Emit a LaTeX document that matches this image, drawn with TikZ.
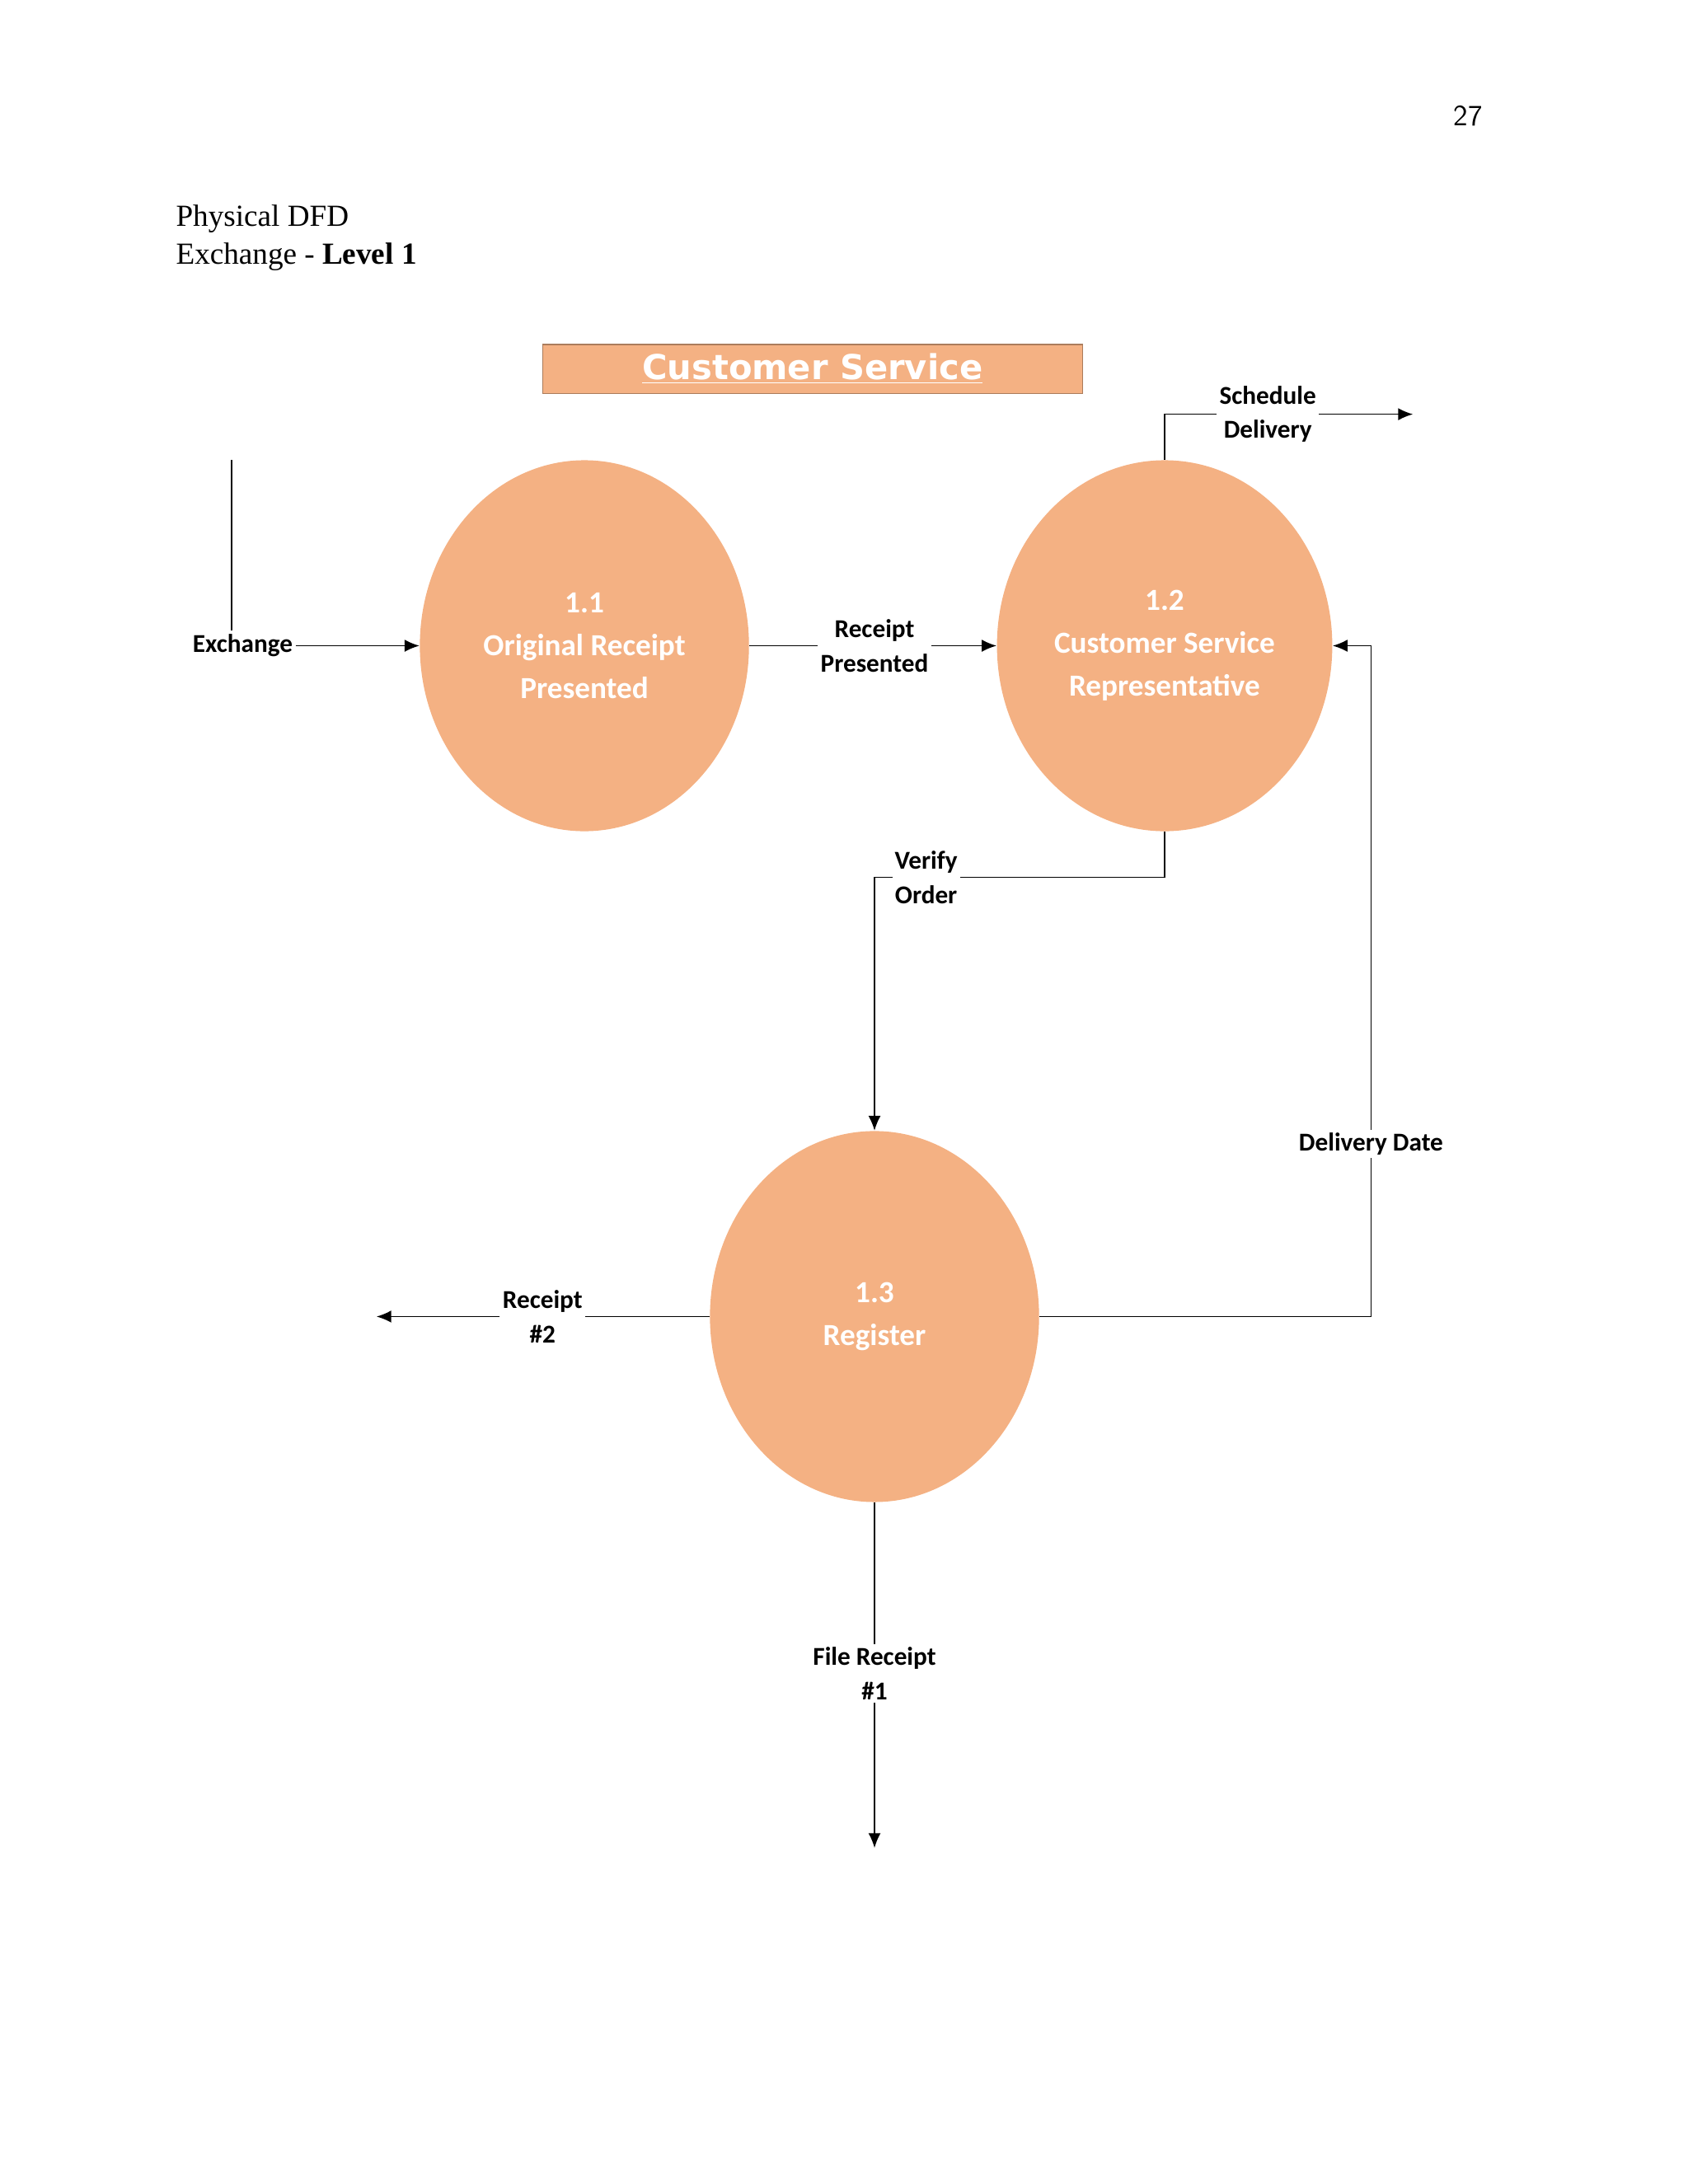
\documentclass[tikz,border=0pt]{standalone}
\usepackage{fontspec}
\setmainfont{Liberation Serif}
\newfontfamily\calfnt{Carlito}
\newfontfamily\dvfnt{DejaVu Sans}
\usetikzlibrary{arrows.meta,shapes.geometric}
\definecolor{orng}{HTML}{F4B183}
\begin{document}
\begin{tikzpicture}[x=0.02cm,y=-0.02cm,
 proc/.style={ellipse,fill=orng,minimum width=236*0.02cm,minimum height=266*0.02cm,text=white,font=\calfnt\bfseries\fontsize{12.5}{17.5}\selectfont,align=center},
 lbl/.style={fill=white,inner sep=1pt,font=\calfnt\bfseries\fontsize{10.5}{14}\selectfont,align=center},
 fl/.style={line width=0.5pt,-{Latex[length=6pt,width=5pt]}},
 ln/.style={line width=0.5pt}]
\useasboundingbox (0,0) rectangle (1210,1566);
\node[anchor=east,font=\sffamily\fontsize{12}{14}\selectfont] (pg) at (1069,83) {27};
\node[anchor=west,font=\fontsize{12.5}{14}\selectfont] (t1) at (120,157) {Physical DFD};
\node[anchor=west,font=\fontsize{12.5}{14}\selectfont] (t2) at (120,184) {Exchange - \textbf{Level 1}};
\node[draw=orng!70!black,fill=orng,minimum width=387*0.02cm,minimum height=35*0.02cm,inner sep=0pt,text=white,font=\dvfnt\bfseries\fontsize{14}{16}\selectfont] (cs) at (582.5,264.5) {\underline{Customer Service}};
\node[proc] (p1) at (419,463) {1.1\\Original Receipt\\Presented};
\node[proc] (p2) at (835,463) {1.2\\Customer Service\\Representative};
\node[proc] (p3) at (627,944) {1.3\\Register};
% Exchange
\coordinate (e0) at (166,330);
\node[lbl] (ex) at (174,463) {Exchange};
\draw[ln] (e0) -- (166,452);
\draw[fl] (ex.east) -- (p1.west);
% Receipt presented
\node[lbl] (rp) at (627,463) {Receipt\\Presented};
\draw[ln] (p1.east) -- (rp.west);
\draw[fl] (rp.east) -- (p2.west);
% Schedule delivery
\node[lbl] (sd) at (909,297) {Schedule\\Delivery};
\coordinate (sde) at (1013,297);
\draw[ln] (p2.north) |- (sd.west);
\draw[fl] (sd.east) -- (sde);
% Verify order
\draw[fl] (p2.south) |- (627,629) -- (p3.north);
\node[lbl] (vo) at (664,629) {Verify\\Order};
% Delivery date
\node[lbl] (dd) at (983,820) {Delivery Date};
\draw[ln] (p3.east) -| (dd.south);
\draw[fl] (dd.north) |- (p2.east);
% Receipt #2
\node[lbl] (r2) at (389,944) {Receipt\\\#2};
\coordinate (r2e) at (270,944);
\draw[ln] (p3.west) -- (r2.east);
\draw[fl] (r2.west) -- (r2e);
% File receipt
\node[lbl] (fr) at (627,1200) {File Receipt\\\#1};
\coordinate (fre) at (627,1325);
\draw[ln] (p3.south) -- (fr.north);
\draw[fl] (fr.south) -- (fre);
\end{tikzpicture}
\end{document}
